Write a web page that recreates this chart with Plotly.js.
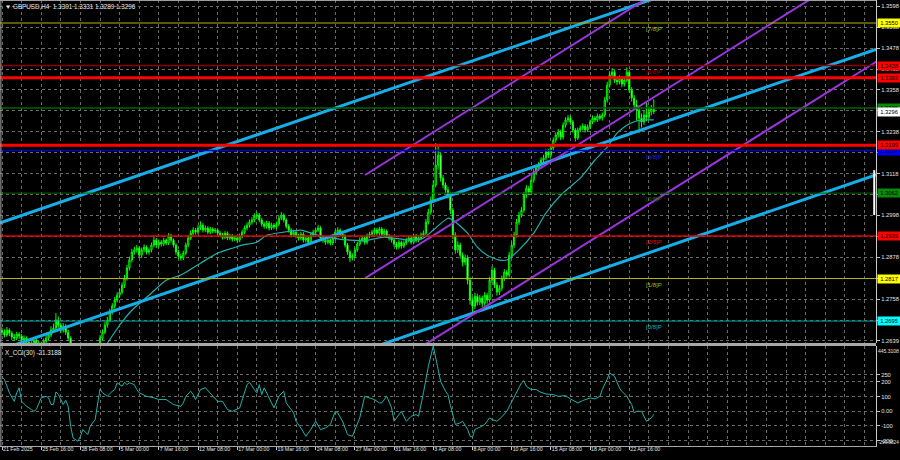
<!DOCTYPE html>
<html><head><meta charset="utf-8">
<script src="https://cdn.plot.ly/plotly-3.0.1.min.js"></script>
<style>html,body{margin:0;padding:0;background:#000;}#chart{width:900px;height:460px;}</style>
</head><body><div id="chart"></div>
<script>
// ---- GBPUSD H4 candles (bar index 0 = 21 Feb 2025 00:00) ----
const opens = [
1.2668,1.2663,1.2655,1.2669,1.2660,1.2649,1.2646,1.2657,1.2652,1.2640,
1.2646,1.2634,1.2626,1.2629,1.2640,1.2632,1.2623,1.2629,1.2637,1.2646,
1.2655,1.2669,1.2675,1.2698,1.2683,1.2669,1.2680,1.2663,1.2646,1.2626,
1.2612,1.2597,1.2589,1.2577,1.2583,1.2568,1.2560,1.2577,1.2589,1.2606,
1.2623,1.2646,1.2663,1.2683,1.2698,1.2721,1.2738,1.2755,1.2769,1.2778,
1.2798,1.2818,1.2847,1.2870,1.2893,1.2899,1.2904,1.2884,1.2899,1.2907,
1.2893,1.2899,1.2913,1.2927,1.2913,1.2921,1.2916,1.2927,1.2919,1.2939,
1.2927,1.2913,1.2893,1.2881,1.2876,1.2890,1.2913,1.2933,1.2947,1.2956,
1.2950,1.2962,1.2970,1.2956,1.2962,1.2950,1.2959,1.2953,1.2956,1.2947,
1.2942,1.2936,1.2947,1.2933,1.2939,1.2930,1.2933,1.2927,1.2939,1.2950,
1.2962,1.2970,1.2979,1.2985,1.2996,1.2999,1.2985,1.2973,1.2967,1.2976,
1.2962,1.2970,1.2965,1.2973,1.2990,1.2999,1.2985,1.2967,1.2956,1.2942,
1.2950,1.2939,1.2933,1.2944,1.2927,1.2933,1.2921,1.2942,1.2950,1.2956,
1.2962,1.2933,1.2927,1.2921,1.2927,1.2919,1.2933,1.2950,1.2956,1.2944,
1.2939,1.2913,1.2893,1.2876,1.2881,1.2899,1.2916,1.2927,1.2933,1.2921,
1.2939,1.2944,1.2950,1.2956,1.2947,1.2959,1.2944,1.2953,1.2939,1.2933,
1.2927,1.2916,1.2907,1.2921,1.2910,1.2919,1.2927,1.2933,1.2921,1.2939,
1.2927,1.2933,1.2942,1.2947,1.2979,1.3008,1.3042,1.3085,1.3142,1.3171,
1.3105,1.3085,1.3071,1.3056,1.3013,1.2942,1.2899,1.2913,1.2884,1.2864,
1.2876,1.2812,1.2755,1.2738,1.2766,1.2749,1.2761,1.2746,1.2769,1.2755,
1.2812,1.2841,1.2798,1.2778,1.2789,1.2818,1.2835,1.2827,1.2884,1.2913,
1.2942,1.2979,1.2999,1.3013,1.3056,1.3076,1.3065,1.3099,1.3122,1.3134,
1.3142,1.3157,1.3163,1.3180,1.3171,1.3191,1.3214,1.3229,1.3237,1.3223,
1.3257,1.3272,1.3277,1.3266,1.3243,1.3220,1.3243,1.3249,1.3254,1.3243,
1.3252,1.3266,1.3277,1.3272,1.3283,1.3277,1.3286,1.3329,1.3372,1.3401,
1.3409,1.3386,1.3381,1.3392,1.3375,1.3386,1.3409,1.3358,1.3335,1.3315,
1.3300,1.3277,1.3266,1.3286,1.3280,1.3295,1.3301];
const highs = [
1.2676,1.2671,1.2678,1.2674,1.2666,1.2658,1.2664,1.2663,1.2658,1.2654,
1.2651,1.2640,1.2637,1.2647,1.2646,1.2638,1.2636,1.2645,1.2655,1.2663,
1.2680,1.2688,1.2718,1.2708,1.2690,1.2689,1.2686,1.2670,1.2651,1.2632,
1.2618,1.2604,1.2595,1.2591,1.2589,1.2575,1.2585,1.2597,1.2614,1.2631,
1.2655,1.2671,1.2692,1.2707,1.2730,1.2746,1.2764,1.2778,1.2787,1.2806,
1.2827,1.2856,1.2880,1.2902,1.2908,1.2913,1.2910,1.2906,1.2915,1.2912,
1.2906,1.2920,1.2942,1.2933,1.2929,1.2927,1.2934,1.2932,1.2947,1.2945,
1.2932,1.2918,1.2899,1.2888,1.2897,1.2920,1.2941,1.2955,1.2964,1.2962,
1.2970,1.2981,1.2976,1.2969,1.2967,1.2965,1.2964,1.2962,1.2961,1.2953,
1.2948,1.2953,1.2952,1.2945,1.2944,1.2940,1.2939,1.2946,1.2957,1.2969,
1.2978,1.2987,1.2993,1.3004,1.3008,1.3005,1.2991,1.2979,1.2983,1.2982,
1.2977,1.2976,1.2980,1.2997,1.3008,1.3004,1.2990,1.2973,1.2962,1.2957,
1.2956,1.2945,1.2951,1.2950,1.2940,1.2938,1.2949,1.2957,1.2963,1.2971,
1.2967,1.2939,1.2933,1.2934,1.2932,1.2940,1.2957,1.2964,1.2961,1.2950,
1.2944,1.2919,1.2899,1.2889,1.2906,1.2923,1.2935,1.2940,1.2939,1.2946,
1.2951,1.2957,1.2963,1.2962,1.2966,1.2965,1.2960,1.2958,1.2945,1.2939,
1.2932,1.2922,1.2928,1.2926,1.2926,1.2934,1.2940,1.2938,1.2946,1.2945,
1.2940,1.2949,1.2955,1.2988,1.3017,1.3052,1.3098,1.3206,1.3200,1.3178,
1.3114,1.3093,1.3080,1.3064,1.3020,1.2950,1.2924,1.2920,1.2892,1.2886,
1.2884,1.2820,1.2763,1.2776,1.2774,1.2770,1.2768,1.2778,1.2776,1.2822,
1.2852,1.2848,1.2806,1.2798,1.2826,1.2844,1.2842,1.2893,1.2922,1.2951,
1.2988,1.3008,1.3022,1.3065,1.3085,1.3083,1.3108,1.3131,1.3143,1.3151,
1.3165,1.3172,1.3188,1.3189,1.3199,1.3222,1.3237,1.3246,1.3244,1.3265,
1.3280,1.3286,1.3284,1.3272,1.3249,1.3250,1.3256,1.3262,1.3260,1.3259,
1.3273,1.3285,1.3283,1.3290,1.3289,1.3293,1.3338,1.3381,1.3412,1.3421,
1.3415,1.3394,1.3400,1.3398,1.3394,1.3423,1.3415,1.3366,1.3343,1.3330,
1.3308,1.3290,1.3300,1.3322,1.3310,1.3315,1.3331];
const lows = [
1.2655,1.2648,1.2650,1.2652,1.2641,1.2638,1.2640,1.2644,1.2632,1.2634,
1.2627,1.2617,1.2619,1.2622,1.2625,1.2614,1.2616,1.2622,1.2631,1.2640,
1.2649,1.2661,1.2668,1.2676,1.2660,1.2662,1.2655,1.2638,1.2618,1.2603,
1.2589,1.2580,1.2569,1.2570,1.2561,1.2553,1.2555,1.2571,1.2583,1.2600,
1.2618,1.2640,1.2657,1.2676,1.2692,1.2714,1.2731,1.2748,1.2761,1.2772,
1.2790,1.2811,1.2840,1.2863,1.2885,1.2891,1.2877,1.2876,1.2892,1.2886,
1.2885,1.2892,1.2906,1.2905,1.2906,1.2909,1.2910,1.2912,1.2913,1.2920,
1.2906,1.2885,1.2873,1.2868,1.2870,1.2884,1.2907,1.2927,1.2940,1.2943,
1.2944,1.2956,1.2949,1.2950,1.2944,1.2944,1.2947,1.2947,1.2941,1.2935,
1.2929,1.2930,1.2927,1.2927,1.2923,1.2924,1.2920,1.2921,1.2933,1.2944,
1.2955,1.2963,1.2972,1.2978,1.2988,1.2978,1.2966,1.2960,1.2960,1.2955,
1.2956,1.2958,1.2959,1.2967,1.2984,1.2978,1.2960,1.2949,1.2935,1.2936,
1.2932,1.2926,1.2927,1.2920,1.2920,1.2914,1.2915,1.2936,1.2944,1.2950,
1.2926,1.2920,1.2914,1.2915,1.2912,1.2913,1.2927,1.2944,1.2937,1.2932,
1.2906,1.2885,1.2864,1.2869,1.2875,1.2893,1.2910,1.2921,1.2914,1.2915,
1.2933,1.2938,1.2944,1.2941,1.2941,1.2938,1.2938,1.2933,1.2926,1.2920,
1.2909,1.2900,1.2901,1.2903,1.2904,1.2913,1.2921,1.2915,1.2915,1.2920,
1.2921,1.2927,1.2936,1.2941,1.2972,1.3000,1.3035,1.3078,1.3130,1.3095,
1.3076,1.3062,1.3046,1.3002,1.2930,1.2888,1.2890,1.2874,1.2852,1.2855,
1.2800,1.2742,1.2718,1.2730,1.2740,1.2741,1.2735,1.2739,1.2745,1.2748,
1.2805,1.2790,1.2768,1.2770,1.2782,1.2810,1.2818,1.2820,1.2876,1.2905,
1.2935,1.2971,1.2992,1.3006,1.3048,1.3057,1.3058,1.3092,1.3114,1.3126,
1.3135,1.3150,1.3156,1.3163,1.3164,1.3184,1.3207,1.3221,1.3214,1.3216,
1.3250,1.3265,1.3258,1.3235,1.3210,1.3214,1.3237,1.3242,1.3236,1.3237,
1.3246,1.3260,1.3265,1.3266,1.3270,1.3270,1.3280,1.3322,1.3365,1.3393,
1.3378,1.3372,1.3374,1.3366,1.3368,1.3380,1.3349,1.3325,1.3302,1.3270,
1.3234,1.3250,1.3258,1.3268,1.3272,1.3285,1.3289];
const closes = [
1.2663,1.2655,1.2669,1.2660,1.2649,1.2646,1.2657,1.2652,1.2640,1.2646,
1.2634,1.2626,1.2629,1.2640,1.2632,1.2623,1.2629,1.2637,1.2646,1.2655,
1.2669,1.2675,1.2698,1.2683,1.2669,1.2680,1.2663,1.2646,1.2626,1.2612,
1.2597,1.2589,1.2577,1.2583,1.2568,1.2560,1.2577,1.2589,1.2606,1.2623,
1.2646,1.2663,1.2683,1.2698,1.2721,1.2738,1.2755,1.2769,1.2778,1.2798,
1.2818,1.2847,1.2870,1.2893,1.2899,1.2904,1.2884,1.2899,1.2907,1.2893,
1.2899,1.2913,1.2927,1.2913,1.2921,1.2916,1.2927,1.2919,1.2939,1.2927,
1.2913,1.2893,1.2881,1.2876,1.2890,1.2913,1.2933,1.2947,1.2956,1.2950,
1.2962,1.2970,1.2956,1.2962,1.2950,1.2959,1.2953,1.2956,1.2947,1.2942,
1.2936,1.2947,1.2933,1.2939,1.2930,1.2933,1.2927,1.2939,1.2950,1.2962,
1.2970,1.2979,1.2985,1.2996,1.2999,1.2985,1.2973,1.2967,1.2976,1.2962,
1.2970,1.2965,1.2973,1.2990,1.2999,1.2985,1.2967,1.2956,1.2942,1.2950,
1.2939,1.2933,1.2944,1.2927,1.2933,1.2921,1.2942,1.2950,1.2956,1.2962,
1.2933,1.2927,1.2921,1.2927,1.2919,1.2933,1.2950,1.2956,1.2944,1.2939,
1.2913,1.2893,1.2876,1.2881,1.2899,1.2916,1.2927,1.2933,1.2921,1.2939,
1.2944,1.2950,1.2956,1.2947,1.2959,1.2944,1.2953,1.2939,1.2933,1.2927,
1.2916,1.2907,1.2921,1.2910,1.2919,1.2927,1.2933,1.2921,1.2939,1.2927,
1.2933,1.2942,1.2947,1.2979,1.3008,1.3042,1.3085,1.3142,1.3171,1.3105,
1.3085,1.3071,1.3056,1.3013,1.2942,1.2899,1.2913,1.2884,1.2864,1.2876,
1.2812,1.2755,1.2738,1.2766,1.2749,1.2761,1.2746,1.2769,1.2755,1.2812,
1.2841,1.2798,1.2778,1.2789,1.2818,1.2835,1.2827,1.2884,1.2913,1.2942,
1.2979,1.2999,1.3013,1.3056,1.3076,1.3065,1.3099,1.3122,1.3134,1.3142,
1.3157,1.3163,1.3180,1.3171,1.3191,1.3214,1.3229,1.3237,1.3223,1.3257,
1.3272,1.3277,1.3266,1.3243,1.3220,1.3243,1.3249,1.3254,1.3243,1.3252,
1.3266,1.3277,1.3272,1.3283,1.3277,1.3286,1.3329,1.3372,1.3401,1.3409,
1.3386,1.3381,1.3392,1.3375,1.3386,1.3409,1.3358,1.3335,1.3315,1.3300,
1.3277,1.3266,1.3286,1.3280,1.3295,1.3306,1.3296];

// ---- moving average ----
const maBars = [40,43,48,53,60,67,73,81,88,94,98,104,108,115,122,129,135,142,149,156,167,172,176,182,184,190,194,198,203,206,211,217,222,228,236,242,247,251,255,259,263,266];
const maVals = [1.2606,1.2632,1.2683,1.2726,1.2769,1.2812,1.2827,1.2861,1.2890,1.2904,1.2913,1.2921,1.2941,1.2950,1.2956,1.2941,1.2933,1.2927,1.2927,1.2936,1.2927,1.2933,1.2956,1.2990,1.2985,1.2947,1.2907,1.2884,1.2870,1.2870,1.2899,1.2947,1.3005,1.3056,1.3105,1.3157,1.3194,1.3234,1.3257,1.3269,1.3272,1.3272];

// ---- CCI(30) ----
const cciBars = [0,1,3,5,6,7,8,10,12,13,14,16,18,19,20,21,22,23,25,26,27,28,29,31,32,33,35,36,38,40,41,43,45,46,47,49,50,51,52,54,55,56,59,62,64,67,70,73,74,75,77,78,79,81,83,85,88,90,92,94,97,100,101,103,104,105,106,107,109,111,113,115,116,119,120,122,124,125,126,128,130,132,134,136,137,139,141,143,146,148,150,152,154,155,157,159,160,162,163,165,167,169,170,172,174,176,178,179,181,182,183,184,185,187,188,190,191,192,193,195,197,199,200,202,204,206,208,210,212,213,214,216,218,220,222,225,227,230,232,235,237,240,242,244,245,247,248,250,252,253,255,257,258,259,261,263,265,266];
const cciVals = [235,217,126,68,126,160,68,34,12,0,12,92,102,92,46,46,132,114,46,75,34,-102,-182,-205,-171,-125,-159,-102,-57,153,126,102,137,148,194,171,198,182,194,182,148,126,102,92,80,80,46,34,57,102,137,114,80,148,160,126,68,68,12,0,23,182,198,148,126,182,114,160,92,23,102,137,57,-11,-68,-114,-171,-148,-125,-68,-125,-114,-91,0,-11,-68,-159,-171,-45,102,92,80,57,57,102,23,-68,-23,0,-68,-34,-23,-34,126,307,445.3108,285,204,137,114,40,-34,-90,-79,-68,-124,-170,-177,-124,-109,-90,-45,-56,-68,-38,0,68,136,193,209,170,148,148,129,118,114,102,107,84,57,73,91,84,102,148,220,261,238,159,136,102,46,-11,0,0,-68,-45,-21.3188];

// ---- channel / pitchfork lines (bar, price) ----
const chanX = [-1, 357];
const blueUpper = [1.2976, 1.3839];
const blueMiddle = [1.2612, 1.3475];
const blueLower = [1.2252, 1.3115];
const pitchX = [148.2, 357];
const purpleUpper = [1.3114, 1.4034];
const purpleMiddle = [1.2818, 1.3738];
const purpleLower = [1.2520, 1.3440];

// ---- horizontal levels ----
const murreyLevels = [1.3550, 1.3428, 1.3306, 1.3184, 1.3062, 1.2939, 1.2817, 1.2695];
const murreyNames = ['[7/8]P', '[6/8]P', '', '[4/8]P', '[3/8]P', '[2/8]P', '[1/8]P', '[0/8]P'];
const srLevels = [1.3393, 1.3199];

// ---- axis ticks ----
const xTickBars = [0,16,32,48,64,80,96,112,128,144,160,176,192,208,224,240,256];
const xTickLabels = ['21 Feb 2025','25 Feb 16:00','28 Feb 08:00','5 Mar 00:00','7 Mar 16:00','12 Mar 08:00','17 Mar 00:00','19 Mar 16:00','24 Mar 08:00','27 Mar 00:00','31 Mar 16:00','3 Apr 08:00','8 Apr 00:00','10 Apr 16:00','15 Apr 08:00','18 Apr 00:00','22 Apr 16:00'];
const yTickVals = [1.3598,1.3538,1.3478,1.3418,1.3358,1.3298,1.3238,1.3178,1.3118,1.3058,1.2998,1.2938,1.2878,1.2818,1.2758,1.2698,1.2639];
// labels hidden behind the coloured price boxes are left blank
const yTickLabels = ['1.3598','1.3538','1.3478','1.3418','1.3358','','1.3238','','1.3118','','1.2998','','1.2878','','1.2758','','1.2639'];
const cciTickVals = [250,200,100,0,-100,-200];
const cciTickLabels = ['250','200','100','0.00','-100','-200'];
const cciMax = 445.3108, cciMin = -299.9824;

// ---------------- styling ----------------
const murreyLineColors = ['#b5b500','#8b0000','#006400','#0000cd','#006400','#e00000','#b5b500','#00a0a0'];
const murreyTextColors = ['#b5b500','#a00000','#006400','#2525e0','#0b6b0b','#e01010','#b5b500','#10b0b0'];
const murreyBoxColors = ['#ffff00','#ff0000','#0a8a0a','#0000ff','#0a8a0a','#ff0000','#ffff00','#00ffff'];
const murreyWidths = [1,1.5,1.5,1.5,1,1.5,1,1];
const FONT = 'Liberation Sans, Arial, DejaVu Sans, sans-serif';
const gridCol = '#6a6a6a';
const bars = closes.map((_, i) => i);
const last = closes.length - 1;

const traces = [
  {type:'candlestick', x:bars, open:opens, high:highs, low:lows, close:closes,
   xaxis:'x', yaxis:'y', whiskerwidth:0, hoverinfo:'skip',
   increasing:{line:{color:'#00ff00', width:1}, fillcolor:'#000000'},
   decreasing:{line:{color:'#00ff00', width:1}, fillcolor:'#e8ffe8'}},
  {type:'scatter', mode:'lines', x:maBars, y:maVals, xaxis:'x', yaxis:'y',
   line:{color:'#20b2aa', width:1.2, shape:'spline', smoothing:0.6}, hoverinfo:'skip'},
];
[blueUpper, blueMiddle, blueLower].forEach(v => traces.push(
  {type:'scatter', mode:'lines', x:chanX, y:v, xaxis:'x', yaxis:'y',
   line:{color:'#16aee8', width:3}, hoverinfo:'skip'}));
[purpleUpper, purpleMiddle, purpleLower].forEach(v => traces.push(
  {type:'scatter', mode:'lines', x:pitchX, y:v, xaxis:'x', yaxis:'y',
   line:{color:'#9a35de', width:2}, hoverinfo:'skip'}));
traces.push({type:'scatter', mode:'lines', x:cciBars, y:cciVals, xaxis:'x', yaxis:'y2',
  line:{color:'#20b2aa', width:1}, hoverinfo:'skip'});

const shapes = [];
murreyLevels.forEach((lv, i) => shapes.push({type:'line', xref:'paper', x0:0, x1:1, yref:'y', y0:lv, y1:lv,
  line:{color:murreyLineColors[i], width:murreyWidths[i]}}));
srLevels.forEach(lv => shapes.push({type:'line', xref:'paper', x0:0, x1:1, yref:'y', y0:lv, y1:lv,
  line:{color:'#ff0000', width:3}}));
// panel separator and frame
shapes.push({type:'line', xref:'paper', yref:'paper', x0:0, x1:1, y0:0.2276, y1:0.2276, line:{color:'#a8a8a8', width:3}});
shapes.push({type:'line', xref:'paper', yref:'paper', x0:0.001, x1:0.001, y0:0, y1:1, line:{color:'#a8a8a8', width:1}});
shapes.push({type:'line', xref:'paper', yref:'paper', x0:0, x1:1, y0:0.999, y1:0.999, line:{color:'#a8a8a8', width:1}});
shapes.push({type:'line', xref:'paper', yref:'y', x0:0.998, x1:0.998, y0:1.2999, y1:1.3128, line:{color:'#ffffff', width:2}});

const annotations = [];
const boxFont = {family:FONT, size:5.8, color:'#000000'};
function priceBox(val, bg) {
  annotations.push({xref:'paper', x:1, xanchor:'left', xshift:1, yref:'y', y:val, yanchor:'middle',
    text:val.toFixed(4), showarrow:false, bgcolor:bg, font:boxFont, width:22, height:8, borderpad:0, align:'center'});
}
murreyLevels.forEach((lv, i) => priceBox(lv, murreyBoxColors[i]));
srLevels.forEach(lv => priceBox(lv, '#ff0000'));
priceBox(closes[last], '#ffffff');
murreyNames.forEach((nm, i) => { if (nm) annotations.push({xref:'paper', x:0.735, xanchor:'left', yref:'y', y:murreyLevels[i],
  yanchor:'top', yshift:-1, text:nm, showarrow:false, font:{family:FONT, size:6, color:murreyTextColors[i]}}); });
annotations.push({xref:'paper', x:0, xanchor:'left', xshift:3, yref:'paper', y:1, yanchor:'top', yshift:-1,
  text:'\u25BC GBPUSD,H4  ' + opens[last].toFixed(4) + ' ' + highs[last].toFixed(4) + ' ' + lows[last].toFixed(4) + ' ' + closes[last].toFixed(4),
  showarrow:false, font:{family:FONT, size:6.3, color:'#e8e8e8'}});
annotations.push({xref:'paper', x:0, xanchor:'left', xshift:3, yref:'paper', y:0.2242, yanchor:'top', yshift:-1,
  text:'X_CCI(30) ' + cciVals[cciVals.length-1].toFixed(4), showarrow:false, font:{family:FONT, size:6.3, color:'#e8e8e8'}});
annotations.push({xref:'paper', x:1, xanchor:'left', xshift:0, yref:'y2', y:cciMax, yanchor:'top',
  text:cciMax.toFixed(4), showarrow:false, font:{family:FONT, size:5, color:'#e0e0e0'}});
annotations.push({xref:'paper', x:1, xanchor:'left', xshift:0, yref:'y2', y:-212, yanchor:'middle',
  text:cciMin.toFixed(4), showarrow:false, font:{family:FONT, size:4.6, color:'#e0e0e0'}});

const axFont = {family:FONT, size:5.8, color:'#e0e0e0'};
const layout = {
  width:900, height:460, paper_bgcolor:'#000000', plot_bgcolor:'#000000',
  margin:{l:0, r:24, t:0, b:14}, showlegend:false,
  font:{family:FONT, size:6, color:'#e0e0e0'},
  xaxis:{range:[-0.82, 356.7], anchor:'y2', type:'linear', tickmode:'array', tickvals:xTickBars, ticktext:xTickLabels,
    ticklabelposition:'outside right', tickangle:0, ticklabelstandoff:-2, ticks:'outside', ticklen:3, tickcolor:'#c8c8c8',
    tickfont:{family:FONT, size:5.3, color:'#e0e0e0'},
    showgrid:true, gridcolor:gridCol, griddash:'dot', gridwidth:1,
    minor:{tickmode:'linear', tick0:0, dtick:8, showgrid:true, gridcolor:gridCol, griddash:'dot', gridwidth:1},
    showline:true, linecolor:'#a8a8a8', linewidth:1, zeroline:false, rangeslider:{visible:false}, fixedrange:true},
  yaxis:{domain:[0.2309, 1], range:[1.2632, 1.3616], side:'right', anchor:'x', tickmode:'array', tickvals:yTickVals,
    ticktext:yTickLabels, ticks:'outside', ticklen:3, tickcolor:'#c8c8c8', tickfont:axFont,
    showgrid:true, gridcolor:gridCol, griddash:'dot', gridwidth:1, showline:true, linecolor:'#c8c8c8', linewidth:1,
    zeroline:false, fixedrange:true},
  yaxis2:{domain:[0, 0.2242], range:[-237, cciMax], side:'right', anchor:'x', tickmode:'array', tickvals:cciTickVals,
    ticktext:cciTickLabels, ticks:'outside', ticklen:3, tickcolor:'#c8c8c8', tickfont:axFont,
    showgrid:true, gridcolor:gridCol, griddash:'dot', gridwidth:1, showline:true, linecolor:'#c8c8c8', linewidth:1,
    zeroline:false, fixedrange:true},
  shapes:shapes, annotations:annotations
};
Plotly.newPlot('chart', traces, layout, {staticPlot:true, displayModeBar:false});
</script>
</body></html>
